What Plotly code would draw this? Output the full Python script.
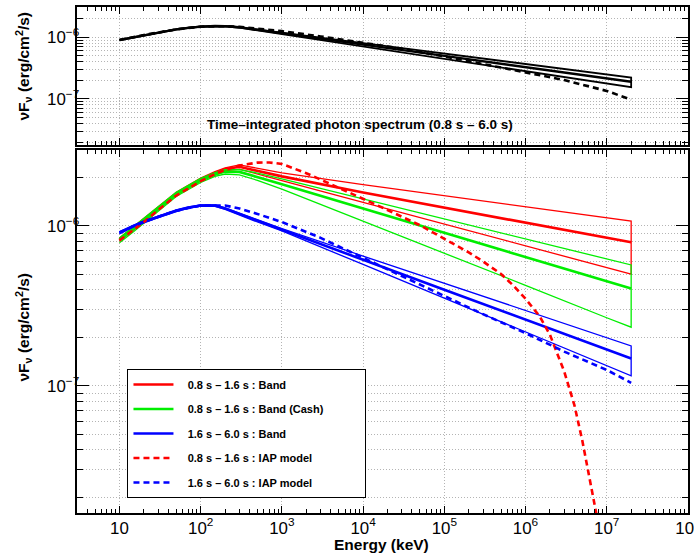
import math
import plotly.graph_objects as go

# ---------------- data ----------------
energy = [10, 15, 20, 30, 50, 70, 100, 150, 200, 300, 500, 1e3, 1e4, 1e5, 1e6, 1e7, 2e7]

# top panel: time-integrated Band fit (centre + envelope) and IAP model
black_band = [9.04e-7, 1.0e-6, 1.089e-6, 1.189e-6, 1.343e-6, 1.419e-6, 1.486e-6, 1.52e-6, 1.514e-6,
              1.452e-6, 1.318e-6, 1.161e-6, 7.62e-7, 5.0e-7, 3.28e-7, 2.15e-7, 1.90e-7]
black_up = [9.12e-7, 1.009e-6, 1.099e-6, 1.2e-6, 1.355e-6, 1.432e-6, 1.5e-6, 1.534e-6, 1.527e-6,
            1.46e-6, 1.33e-6, 1.186e-6, 8.04e-7, 5.45e-7, 3.69e-7, 2.5e-7, 2.22e-7]
black_lo = [8.96e-7, 9.91e-7, 1.079e-6, 1.178e-6, 1.331e-6, 1.406e-6, 1.473e-6, 1.506e-6, 1.5e-6,
            1.429e-6, 1.288e-6, 1.122e-6, 7.08e-7, 4.47e-7, 2.82e-7, 1.78e-7, 1.55e-7]

energy_iap = [10, 20, 50, 100, 200, 300, 500, 1e3, 3e3, 1e4, 3e4, 1e5, 3e5, 1e6, 3e6, 1e7, 2e7]
black_iap = [9.04e-7, 1.089e-6, 1.343e-6, 1.486e-6, 1.514e-6, 1.479e-6, 1.38e-6, 1.259e-6, 1.033e-6,
             8.22e-7, 6.53e-7, 4.9e-7, 3.68e-7, 2.75e-7, 2.03e-7, 1.35e-7, 9.77e-8]

# bottom panel: 0.8-1.6 s Band
red_band = [8.22e-7, 9.66e-7, 1.084e-6, 1.288e-6, 1.585e-6, 1.758e-6, 1.95e-6, 2.138e-6, 2.265e-6,
            2.344e-6, 2.213e-6, 2.042e-6, 1.618e-6, 1.303e-6, 1.05e-6, 8.45e-7, 7.91e-7]
red_up = [8.41e-7, 9.89e-7, 1.109e-6, 1.318e-6, 1.622e-6, 1.799e-6, 1.995e-6, 2.188e-6, 2.307e-6,
          2.41e-6, 2.301e-6, 2.148e-6, 1.811e-6, 1.545e-6, 1.318e-6, 1.125e-6, 1.072e-6]
red_lo = [8.04e-7, 9.44e-7, 1.059e-6, 1.259e-6, 1.549e-6, 1.718e-6, 1.905e-6, 2.089e-6, 2.213e-6,
          2.265e-6, 2.113e-6, 1.923e-6, 1.406e-6, 1.028e-6, 7.52e-7, 5.50e-7, 5.0e-7]

# 0.8-1.6 s Band (Cash)
green_band = [8.18e-7, 9.62e-7, 1.079e-6, 1.282e-6, 1.578e-6, 1.746e-6, 1.928e-6, 2.099e-6, 2.188e-6,
              2.178e-6, 2.028e-6, 1.824e-6, 1.285e-6, 9.08e-7, 6.40e-7, 4.51e-7, 4.06e-7]
green_up = [8.41e-7, 9.89e-7, 1.109e-6, 1.318e-6, 1.622e-6, 1.795e-6, 1.982e-6, 2.158e-6, 2.249e-6,
            2.249e-6, 2.143e-6, 1.968e-6, 1.476e-6, 1.107e-6, 8.30e-7, 6.24e-7, 5.71e-7]
green_lo = [7.85e-7, 9.23e-7, 1.035e-6, 1.236e-6, 1.528e-6, 1.69e-6, 1.871e-6, 2.042e-6, 2.113e-6,
            2.089e-6, 1.928e-6, 1.698e-6, 1.079e-6, 6.78e-7, 4.26e-7, 2.67e-7, 2.33e-7]

# 1.6-6.0 s Band
blue_band = [9.08e-7, 1.005e-6, 1.064e-6, 1.14e-6, 1.245e-6, 1.30e-6, 1.343e-6, 1.343e-6, 1.288e-6,
             1.19e-6, 1.08e-6, 9.46e-7, 6.15e-7, 4.0e-7, 2.60e-7, 1.69e-7, 1.486e-7]
blue_up = [9.23e-7, 1.016e-6, 1.076e-6, 1.153e-6, 1.259e-6, 1.315e-6, 1.355e-6, 1.355e-6, 1.30e-6,
           1.202e-6, 1.091e-6, 9.64e-7, 6.49e-7, 4.39e-7, 2.96e-7, 2.00e-7, 1.78e-7]
blue_lo = [8.93e-7, 9.91e-7, 1.052e-6, 1.127e-6, 1.23e-6, 1.288e-6, 1.33e-6, 1.327e-6, 1.27e-6,
           1.175e-6, 1.059e-6, 9.31e-7, 5.75e-7, 3.54e-7, 2.18e-7, 1.34e-7, 1.156e-7]

blue_iap = [9.08e-7, 1.064e-6, 1.245e-6, 1.343e-6, 1.343e-6, 1.288e-6, 1.189e-6, 1.059e-6, 8.43e-7,
            6.31e-7, 4.84e-7, 3.63e-7, 2.81e-7, 2.14e-7, 1.64e-7, 1.26e-7, 1.047e-7]

energy_red_iap = [10, 20, 30, 50, 100, 150, 200, 300, 500, 700, 1e3, 2e3, 3e3, 5e3, 1e4, 2e4, 5e4,
                  1e5, 2e5, 3e5, 5e5, 7e5, 1e6, 1.5e6, 2e6, 3e6, 4e6, 5e6, 6e6, 7e6, 8e6]
red_iap = [8.13e-7, 1.059e-6, 1.259e-6, 1.549e-6, 1.905e-6, 2.113e-6, 2.239e-6, 2.388e-6, 2.489e-6,
           2.495e-6, 2.443e-6, 2.138e-6, 1.95e-6, 1.738e-6, 1.479e-6, 1.259e-6, 1.012e-6, 8.32e-7,
           6.84e-7, 6.0e-7, 5.01e-7, 4.27e-7, 3.51e-7, 2.72e-7, 2.09e-7, 1.23e-7, 7.59e-8,
           4.57e-8, 2.88e-8, 1.905e-8, 1.318e-8]

legend_names = ["0.8 s – 1.6 s : Band", "0.8 s – 1.6 s : Band (Cash)", "1.6 s – 6.0 s : Band",
                "0.8 s – 1.6 s : IAP model", "1.6 s – 6.0 s : IAP model"]

# ---------------- figure ----------------
FONT = "Liberation Sans, Arial, Helvetica, sans-serif"
RED, GREEN, BLUE = "#ff0000", "#00ee00", "#0000ff"
DASH = "6px,4px"
LEAD = "\u00a0" * 3   # gap between legend sample and text
PAD = "\u00a0" * 12   # widen the legend box like the reference

fig = go.Figure()


def add_band(E, centre, up, lo, color, name, xa, ya, wc, we, showleg, group):
    fig.add_trace(go.Scatter(x=E + E[::-1], y=up + lo[::-1], mode="lines",
                             line=dict(color=color, width=we), showlegend=False,
                             hoverinfo="skip", xaxis=xa, yaxis=ya))
    fig.add_trace(go.Scatter(x=E, y=centre, mode="lines", name=name,
                             line=dict(color=color, width=wc), showlegend=showleg,
                             legendgroup=group, xaxis=xa, yaxis=ya))


def lname(i, pad=""):
    return "%s<b>%s</b>%s" % (LEAD, legend_names[i], pad)


# top panel
add_band(energy, black_band, black_up, black_lo, "black", "time-integrated", "x2", "y2", 2.4, 1.8, False, "k")
fig.add_trace(go.Scatter(x=energy_iap, y=black_iap, mode="lines", showlegend=False,
                         line=dict(color="black", width=2.6, dash=DASH), xaxis="x2", yaxis="y2"))

# bottom panel
add_band(energy, red_band, red_up, red_lo, RED, lname(0), "x", "y", 2.6, 1.3, True, "g1")
add_band(energy, green_band, green_up, green_lo, GREEN, lname(1, PAD), "x", "y", 2.6, 1.3, True, "g2")
add_band(energy, blue_band, blue_up, blue_lo, BLUE, lname(2), "x", "y", 2.6, 1.3, True, "g3")
fig.add_trace(go.Scatter(x=energy_red_iap, y=red_iap, mode="lines", name=lname(3),
                         line=dict(color=RED, width=2.6, dash=DASH), legendgroup="g4"))
fig.add_trace(go.Scatter(x=energy_iap, y=blue_iap, mode="lines", name=lname(4),
                         line=dict(color=BLUE, width=2.6, dash=DASH), legendgroup="g5"))

GRID = "#b4b4b4"
common = dict(type="log", showline=True, linewidth=2, linecolor="black", mirror="allticks",
              ticks="inside", tickcolor="black", tickwidth=1, zeroline=False, automargin=False,
              exponentformat="power", showexponent="all", dtick=1, ticklabeloverflow="allow",
              showgrid=True, gridcolor=GRID, griddash="1px,2px", gridwidth=1,
              tickfont=dict(family=FONT, size=13.5, color="black"))

x_range = [math.log10(3), 8.001]

xaxis_cfg = dict(common, range=x_range, ticklen=7,
                 minor=dict(dtick="D1", ticks="inside", ticklen=4, tickcolor="black", showgrid=False))
yaxis_cfg = dict(common, ticklen=12, ticklabelstandoff=-7,
                 minor=dict(dtick="D1", ticks="inside", ticklen=6, tickcolor="black",
                            showgrid=True, gridcolor=GRID, griddash="1px,2px", gridwidth=1))

fig.update_layout(
    width=694, height=559, autosize=False,
    margin=dict(l=76.5, r=6, t=7, b=46),
    paper_bgcolor="white", plot_bgcolor="white",
    font=dict(family=FONT, color="black"),
    xaxis=dict(xaxis_cfg, domain=[0, 1], anchor="y", ticklabelstandoff=-1),
    yaxis=dict(yaxis_cfg, domain=[0, 0.7174], anchor="x", range=[-7.794, -5.525]),
    xaxis2=dict(xaxis_cfg, domain=[0, 1], anchor="y2", showticklabels=False),
    yaxis2=dict(yaxis_cfg, domain=[0.7263, 1], anchor="x2", range=[-7.754, -5.509]),
    legend=dict(x=0.0826, y=0.2846, xanchor="left", yanchor="top",
                bordercolor="black", borderwidth=1, bgcolor="white",
                font=dict(family=FONT, size=11, color="black"),
                tracegroupgap=5.5, itemwidth=40),
    showlegend=True,
)

ytitle = "<b>νF<sub>ν</sub> (erg/cm<sup>2</sup>/s)</b>"
fig.add_annotation(text=ytitle, xref="paper", yref="paper", x=-0.0875, y=0.8834,
                   textangle=-90, showarrow=False, xanchor="center", yanchor="middle",
                   font=dict(family=FONT, size=15.5, color="black"))
fig.add_annotation(text=ytitle, xref="paper", yref="paper", x=-0.0875, y=0.3676,
                   textangle=-90, showarrow=False, xanchor="center", yanchor="middle",
                   font=dict(family=FONT, size=15.5, color="black"))
fig.add_annotation(text="<b>Energy (keV)</b>", xref="paper", yref="paper", x=0.498, y=-0.0632,
                   showarrow=False, xanchor="center", yanchor="middle",
                   font=dict(family=FONT, size=15.5, color="black"))
fig.add_annotation(text="<b>Time–integrated photon spectrum (0.8 s – 6.0 s)</b>", xref="paper",
                   yref="paper", x=0.4636, y=0.7668, showarrow=False, xanchor="center",
                   yanchor="middle", font=dict(family=FONT, size=13.5, color="black"))

fig.write_html("out.html", config={"displayModeBar": False},
               post_script="document.body.style.margin='0px';")
